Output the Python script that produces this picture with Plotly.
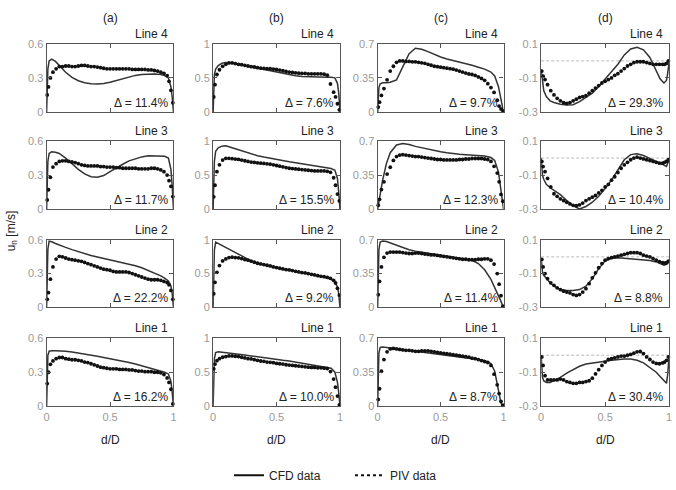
import plotly.graph_objects as go

# ---------------- data ----------------
x_cfd = [0, 0.005, 0.01, 0.02, 0.04, 0.07, 0.1, 0.15, 0.2, 0.25, 0.3, 0.35, 0.4, 0.45,
         0.5, 0.55, 0.6, 0.65, 0.7, 0.75, 0.8, 0.85, 0.9, 0.93, 0.96, 0.98, 0.99, 1.0]

x_piv = [0.005, 0.015, 0.03, 0.05,
         0.075, 0.1, 0.125, 0.15, 0.175,
         0.2, 0.225, 0.25, 0.275, 0.3,
         0.325, 0.35, 0.375, 0.4, 0.425,
         0.45, 0.475, 0.5, 0.525, 0.55,
         0.575, 0.6, 0.625, 0.65, 0.675,
         0.7, 0.725, 0.75, 0.775, 0.8,
         0.825, 0.85, 0.875, 0.9, 0.925,
         0.95, 0.965, 0.98, 0.995]

# column (a)
cfd_a4 = [0, 0.2, 0.38, 0.45, 0.465, 0.445, 0.41, 0.35, 0.305, 0.275, 0.258, 0.248, 0.245, 0.25,
          0.262, 0.278, 0.295, 0.31, 0.322, 0.33, 0.335, 0.335, 0.33, 0.32, 0.30, 0.22, 0.13, 0]
piv_a4 = [0.15, 0.22, 0.30, 0.35,
          0.38, 0.40, 0.40, 0.405, 0.405,
          0.40, 0.40, 0.405, 0.41, 0.41,
          0.405, 0.40, 0.40, 0.395, 0.39,
          0.385, 0.38, 0.38, 0.38, 0.38,
          0.38, 0.38, 0.38, 0.38, 0.375,
          0.375, 0.375, 0.375, 0.375, 0.37,
          0.37, 0.365, 0.36, 0.35, 0.34,
          0.32, 0.27, 0.19, 0.08]
cfd_a3 = [0, 0.25, 0.42, 0.49, 0.505, 0.50, 0.49, 0.45, 0.40, 0.35, 0.31, 0.285, 0.28, 0.295,
          0.33, 0.365, 0.395, 0.425, 0.445, 0.46, 0.47, 0.47, 0.47, 0.465, 0.45, 0.35, 0.2, 0]
piv_a3 = [0.08, 0.17, 0.28, 0.37,
          0.40, 0.42, 0.425, 0.425, 0.42,
          0.415, 0.41, 0.40, 0.39, 0.385,
          0.38, 0.38, 0.38, 0.38, 0.375,
          0.375, 0.37, 0.37, 0.37, 0.365,
          0.365, 0.36, 0.36, 0.36, 0.36,
          0.36, 0.355, 0.355, 0.355, 0.355,
          0.36, 0.36, 0.355, 0.345, 0.33,
          0.30, 0.25, 0.20, 0.11]
cfd_a2 = [0, 0.3, 0.52, 0.59, 0.585, 0.57, 0.555, 0.535, 0.515, 0.495, 0.478, 0.462, 0.448, 0.436,
          0.424, 0.412, 0.40, 0.386, 0.37, 0.352, 0.33, 0.305, 0.28, 0.26, 0.235, 0.19, 0.12, 0]
piv_a2 = [0.07, 0.13, 0.25, 0.36,
          0.43, 0.455, 0.45, 0.44, 0.43,
          0.425, 0.42, 0.415, 0.41, 0.40,
          0.39, 0.38, 0.37, 0.36, 0.35,
          0.34, 0.335, 0.33, 0.32, 0.315,
          0.315, 0.315, 0.315, 0.31, 0.30,
          0.29, 0.28, 0.27, 0.26, 0.25,
          0.245, 0.245, 0.245, 0.24, 0.23,
          0.22, 0.20, 0.15, 0.07]
cfd_a1 = [0, 0.25, 0.45, 0.485, 0.49, 0.49, 0.49, 0.485, 0.478, 0.47, 0.46, 0.45, 0.44, 0.43,
          0.42, 0.41, 0.397, 0.385, 0.372, 0.357, 0.342, 0.327, 0.312, 0.30, 0.285, 0.22, 0.12, 0]
piv_a1 = [0.20, 0.30, 0.37, 0.40,
          0.42, 0.43, 0.43, 0.42, 0.415,
          0.41, 0.41, 0.405, 0.40, 0.39,
          0.385, 0.375, 0.365, 0.355, 0.345,
          0.34, 0.335, 0.33, 0.33, 0.33,
          0.325, 0.325, 0.325, 0.32, 0.32,
          0.315, 0.31, 0.31, 0.305, 0.305,
          0.305, 0.30, 0.30, 0.295, 0.28,
          0.25, 0.21, 0.15, 0.02]

# column (b)
cfd_b4 = [0, 0.3, 0.55, 0.63, 0.68, 0.715, 0.725, 0.72, 0.70, 0.68, 0.66, 0.64, 0.62, 0.60,
          0.58, 0.56, 0.545, 0.53, 0.52, 0.515, 0.51, 0.51, 0.51, 0.51, 0.50, 0.42, 0.28, 0]
piv_b4 = [0.22, 0.40, 0.55, 0.62,
          0.67, 0.70, 0.72, 0.72, 0.71,
          0.70, 0.695, 0.685, 0.675, 0.665,
          0.66, 0.65, 0.645, 0.64, 0.635,
          0.635, 0.63, 0.625, 0.615, 0.605,
          0.595, 0.585, 0.58, 0.575, 0.57,
          0.565, 0.565, 0.56, 0.56, 0.56,
          0.56, 0.56, 0.555, 0.54, 0.41,
          0.29, 0.22, 0.12, 0.03]
cfd_b3 = [0, 0.4, 0.7, 0.85, 0.9, 0.925, 0.93, 0.9, 0.87, 0.84, 0.81, 0.785, 0.765, 0.745,
          0.725, 0.71, 0.695, 0.68, 0.665, 0.65, 0.635, 0.62, 0.605, 0.595, 0.57, 0.45, 0.25, 0]
piv_b3 = [0.18, 0.35, 0.55, 0.65,
          0.72, 0.745, 0.745, 0.74, 0.735,
          0.73, 0.72, 0.71, 0.70, 0.69,
          0.685, 0.68, 0.675, 0.67, 0.665,
          0.66, 0.65, 0.64, 0.63, 0.62,
          0.61, 0.60, 0.595, 0.59, 0.585,
          0.58, 0.575, 0.57, 0.565, 0.56,
          0.56, 0.56, 0.56, 0.555, 0.54,
          0.46, 0.35, 0.22, 0.12]
cfd_b2 = [0, 0.5, 0.85, 0.97, 0.95, 0.92, 0.88, 0.83, 0.78, 0.73, 0.69, 0.655, 0.63, 0.605,
          0.585, 0.565, 0.55, 0.535, 0.515, 0.50, 0.48, 0.46, 0.435, 0.415, 0.38, 0.30, 0.20, 0]
piv_b2 = [0.20, 0.37, 0.52, 0.62,
          0.69, 0.72, 0.74, 0.745, 0.74,
          0.735, 0.725, 0.71, 0.70, 0.685,
          0.67, 0.655, 0.645, 0.635, 0.625,
          0.615, 0.60, 0.59, 0.58, 0.57,
          0.56, 0.555, 0.545, 0.535, 0.525,
          0.515, 0.51, 0.50, 0.49, 0.48,
          0.47, 0.46, 0.455, 0.445, 0.43,
          0.40, 0.36, 0.28, 0.18]
cfd_b1 = [0, 0.4, 0.7, 0.79, 0.80, 0.795, 0.79, 0.78, 0.77, 0.755, 0.74, 0.725, 0.715, 0.70,
          0.69, 0.675, 0.665, 0.65, 0.64, 0.625, 0.61, 0.595, 0.575, 0.56, 0.50, 0.35, 0.2, 0]
piv_b1 = [0.55, 0.62, 0.67, 0.70,
          0.72, 0.73, 0.74, 0.74, 0.735,
          0.73, 0.72, 0.71, 0.70, 0.695,
          0.685, 0.675, 0.665, 0.66, 0.65,
          0.645, 0.64, 0.63, 0.625, 0.62,
          0.61, 0.605, 0.60, 0.595, 0.59,
          0.585, 0.58, 0.575, 0.57, 0.57,
          0.565, 0.565, 0.56, 0.555, 0.51,
          0.40, 0.28, 0.15, 0.02]

# column (c)
cfd_c4 = [0, 0.15, 0.25, 0.29, 0.30, 0.30, 0.305, 0.33, 0.47, 0.60, 0.655, 0.645, 0.62, 0.59,
          0.565, 0.545, 0.53, 0.515, 0.50, 0.48, 0.46, 0.44, 0.41, 0.37, 0.26, 0.12, 0.05, 0]
piv_c4 = [0.05, 0.10, 0.17, 0.24,
          0.33, 0.42, 0.47, 0.51, 0.525,
          0.525, 0.52, 0.52, 0.515, 0.515,
          0.51, 0.505, 0.50, 0.49, 0.48,
          0.47, 0.465, 0.46, 0.455, 0.45,
          0.445, 0.44, 0.43, 0.42, 0.41,
          0.40, 0.39, 0.385, 0.375, 0.36,
          0.345, 0.325, 0.29, 0.25, 0.20,
          0.12, 0.06, 0.03, 0.01]
cfd_c3 = [0, 0.03, 0.07, 0.15, 0.30, 0.47, 0.58, 0.66, 0.675, 0.665, 0.645, 0.63, 0.615, 0.60,
          0.59, 0.58, 0.57, 0.565, 0.56, 0.555, 0.55, 0.545, 0.53, 0.50, 0.38, 0.20, 0.08, 0]
piv_c3 = [0.04, 0.10, 0.20, 0.28,
          0.36, 0.43, 0.50, 0.54, 0.555,
          0.56, 0.555, 0.55, 0.545, 0.54,
          0.54, 0.535, 0.53, 0.525, 0.52,
          0.515, 0.51, 0.51, 0.505, 0.505,
          0.505, 0.505, 0.505, 0.51, 0.51,
          0.515, 0.515, 0.52, 0.52, 0.52,
          0.52, 0.515, 0.51, 0.49, 0.44,
          0.37, 0.28, 0.15, 0.08]
cfd_c2 = [0, 0.35, 0.6, 0.68, 0.69, 0.685, 0.67, 0.65, 0.625, 0.60, 0.585, 0.575, 0.565, 0.555,
          0.545, 0.535, 0.525, 0.515, 0.505, 0.49, 0.455, 0.39, 0.29, 0.21, 0.13, 0.06, 0.025, 0]
piv_c2 = [0.13, 0.27, 0.42, 0.52,
          0.565, 0.575, 0.575, 0.575, 0.575,
          0.57, 0.565, 0.56, 0.56, 0.565,
          0.565, 0.56, 0.555, 0.55, 0.545,
          0.545, 0.54, 0.535, 0.53, 0.525,
          0.52, 0.515, 0.51, 0.505, 0.50,
          0.50, 0.495, 0.495, 0.495, 0.50,
          0.50, 0.505, 0.505, 0.49, 0.45,
          0.35, 0.24, 0.12, 0.01]
cfd_c1 = [0, 0.3, 0.55, 0.605, 0.61, 0.605, 0.60, 0.59, 0.58, 0.572, 0.565, 0.558, 0.55, 0.543,
          0.535, 0.528, 0.52, 0.51, 0.50, 0.49, 0.48, 0.47, 0.44, 0.36, 0.15, 0.03, 0.01, 0]
piv_c1 = [0.07, 0.18, 0.36, 0.48,
          0.56, 0.59, 0.595, 0.59, 0.585,
          0.58, 0.575, 0.575, 0.57, 0.565,
          0.565, 0.57, 0.57, 0.57, 0.565,
          0.56, 0.555, 0.55, 0.545, 0.54,
          0.535, 0.53, 0.525, 0.52, 0.515,
          0.51, 0.505, 0.495, 0.49, 0.48,
          0.47, 0.46, 0.45, 0.42, 0.33,
          0.22, 0.13, 0.05, 0.01]

# column (d)
cfd_d4 = [-0.05, -0.09, -0.13, -0.175, -0.21, -0.235, -0.245, -0.255, -0.26, -0.258, -0.24, -0.215, -0.19, -0.15,
          -0.105, -0.065, -0.02, 0.035, 0.07, 0.08, 0.065, 0.02, -0.055, -0.105, -0.13, -0.115, -0.07, -0.01]
piv_d4 = [-0.06, -0.09, -0.11, -0.14,
          -0.175, -0.20, -0.22, -0.235, -0.245,
          -0.25, -0.245, -0.235, -0.225, -0.215,
          -0.21, -0.205, -0.19, -0.175, -0.16,
          -0.145, -0.13, -0.12, -0.11, -0.10,
          -0.085, -0.075, -0.06, -0.045, -0.03,
          -0.02, -0.01, -0.005, -0.005, -0.005,
          -0.01, -0.015, -0.02, -0.02, -0.02,
          -0.02, -0.02, -0.015, 0.0]
cfd_d3 = [0.0, -0.05, -0.1, -0.125, -0.155, -0.175, -0.19, -0.215, -0.25, -0.28, -0.30, -0.285, -0.26, -0.225,
          -0.18, -0.13, -0.07, -0.01, 0.02, 0.025, 0.015, -0.005, -0.02, -0.03, -0.04, -0.05, -0.03, -0.01]
piv_d3 = [-0.02, -0.05, -0.08, -0.12,
          -0.17, -0.21, -0.225, -0.24, -0.25,
          -0.26, -0.27, -0.278, -0.28, -0.275,
          -0.265, -0.25, -0.24, -0.23, -0.22,
          -0.205, -0.19, -0.17, -0.155, -0.13,
          -0.11, -0.085, -0.06, -0.04, -0.025,
          -0.01, 0.0, 0.005, 0.0, -0.005,
          -0.01, -0.015, -0.02, -0.025, -0.03,
          -0.03, -0.025, -0.02, -0.01]
cfd_d2 = [-0.01, -0.06, -0.09, -0.11, -0.13, -0.155, -0.175, -0.195, -0.2, -0.2, -0.195, -0.175, -0.13, -0.07,
          -0.025, -0.008, -0.005, -0.008, -0.01, -0.013, -0.017, -0.022, -0.03, -0.04, -0.05, -0.045, -0.035, -0.03]
piv_d2 = [-0.015, -0.06, -0.10, -0.13,
          -0.155, -0.17, -0.185, -0.195, -0.205,
          -0.21, -0.215, -0.225, -0.23, -0.225,
          -0.21, -0.19, -0.16, -0.125, -0.095,
          -0.065, -0.04, -0.02, -0.01, -0.005,
          0.0, 0.005, 0.01, 0.015, 0.02,
          0.025, 0.025, 0.025, 0.02, 0.01,
          0.005, 0.0, -0.01, -0.02, -0.028,
          -0.035, -0.037, -0.035, -0.025]
cfd_d1 = [-0.005, -0.1, -0.13, -0.15, -0.16, -0.16, -0.15, -0.13, -0.105, -0.085, -0.065, -0.052, -0.045, -0.04,
          -0.035, -0.03, -0.025, -0.022, -0.022, -0.03, -0.045, -0.07, -0.1, -0.125, -0.15, -0.165, -0.11, -0.005]
piv_d1 = [-0.01, -0.06, -0.12, -0.145,
          -0.145, -0.145, -0.145, -0.14, -0.145,
          -0.155, -0.16, -0.165, -0.165, -0.16,
          -0.16, -0.155, -0.15, -0.135, -0.11,
          -0.085, -0.06, -0.04, -0.025, -0.02,
          -0.015, -0.01, -0.005, -0.005, 0.0,
          0.005, 0.012, 0.02, 0.022, 0.01,
          -0.01, -0.025, -0.04, -0.048, -0.05,
          -0.045, -0.04, -0.03, -0.01]

col_titles = ["(a)", "(b)", "(c)", "(d)"]
row_titles = ["Line 4", "Line 3", "Line 2", "Line 1"]
deltas = [["11.4", "7.6", "9.7", "29.3"],
          ["11.7", "15.5", "12.3", "10.4"],
          ["22.2", "9.2", "11.4", "8.8"],
          ["16.2", "10.0", "8.7", "30.4"]]
cfd_rows = [[cfd_a4, cfd_b4, cfd_c4, cfd_d4],
            [cfd_a3, cfd_b3, cfd_c3, cfd_d3],
            [cfd_a2, cfd_b2, cfd_c2, cfd_d2],
            [cfd_a1, cfd_b1, cfd_c1, cfd_d1]]
piv_rows = [[piv_a4, piv_b4, piv_c4, piv_d4],
            [piv_a3, piv_b3, piv_c3, piv_d3],
            [piv_a2, piv_b2, piv_c2, piv_d2],
            [piv_a1, piv_b1, piv_c1, piv_d1]]
y_ranges = [[0, 0.6], [0, 1], [0, 0.7], [-0.3, 0.1]]
y_tickvals = [[0, 0.3, 0.6], [0, 0.5, 1], [0, 0.35, 0.7], [-0.3, -0.1, 0.1]]
y_ticktext = [["0", "0.3", "0.6"], ["0", "0.5", "1"], ["0", "0.35", "0.7"], ["-0.3", "-0.1", "0.1"]]
x_tickvals = [0, 0.5, 1]
x_ticktext = ["0", "0.5", "1"]

# ---------------- layout geometry (pixels) ----------------
W, H = 676, 490
col_px = [(44, 172), (212, 340), (378, 505), (543, 672)]
row_px = [(39, 109), (139, 209), (241, 310), (342, 412)]

FONT = "Liberation Sans, Arial, sans-serif"
LINEC = "#555555"
TICKC = "#999999"

fig = go.Figure()
layout = dict(width=W, height=H, margin=dict(l=0, r=0, t=0, b=0),
              paper_bgcolor="white", plot_bgcolor="white",
              font=dict(family=FONT, size=12, color="#222222"))
annotations = []
shapes = []

for r in range(4):
    for c in range(4):
        k = r * 4 + c + 1
        sx = "" if k == 1 else str(k)
        x0, x1 = col_px[c]
        y0, y1 = row_px[r]
        layout["xaxis" + sx] = dict(
            domain=[x0 / W, x1 / W], range=[0, 1], anchor="y" + sx,
            tickvals=x_tickvals, ticktext=x_ticktext, showticklabels=(r == 3),
            ticks="inside", ticklen=4, tickcolor=LINEC, tickwidth=1,
            showline=True, linecolor=LINEC, linewidth=1.3, mirror="ticks",
            showgrid=False, zeroline=False,
            tickfont=dict(family=FONT, size=11, color=TICKC))
        layout["yaxis" + sx] = dict(
            domain=[1 - y1 / H, 1 - y0 / H], range=y_ranges[c], anchor="x" + sx,
            tickvals=y_tickvals[c], ticktext=y_ticktext[c],
            ticks="inside", ticklen=4, tickcolor=LINEC, tickwidth=1,
            showline=True, linecolor=LINEC, linewidth=1.3, mirror="ticks",
            showgrid=False, zeroline=False,
            tickfont=dict(family=FONT, size=11, color=TICKC))
        if c == 3:
            shapes.append(dict(type="line", xref="x" + sx + " domain", yref="y" + sx,
                               x0=0, x1=1, y0=0, y1=0, layer="below",
                               line=dict(color="#aaaaaa", width=0.8, dash="3px,2px")))
        fig.add_trace(go.Scatter(x=x_cfd, y=cfd_rows[r][c], mode="lines",
                                 line=dict(color="#333333", width=1.5),
                                 xaxis="x" + sx, yaxis="y" + sx, showlegend=False,
                                 hoverinfo="skip"))
        fig.add_trace(go.Scatter(x=x_piv, y=piv_rows[r][c], mode="markers",
                                 marker=dict(color="#111111", size=3.8, symbol="circle"),
                                 xaxis="x" + sx, yaxis="y" + sx, showlegend=False,
                                 cliponaxis=False, hoverinfo="skip"))
        annotations.append(dict(text=row_titles[r], xref="x" + sx + " domain", yref="y" + sx + " domain",
                                x=0.97, y=1, xanchor="right", yanchor="bottom", yshift=1,
                                showarrow=False, font=dict(family=FONT, size=12, color="#222222")))
        annotations.append(dict(text="\u0394 = " + deltas[r][c] + "%", xref="x" + sx + " domain",
                                yref="y" + sx + " domain", x=0.97, y=0, xanchor="right", yanchor="bottom",
                                yshift=0, showarrow=False,
                                font=dict(family=FONT, size=12, color="#222222")))

for c in range(4):
    cx = (col_px[c][0] + col_px[c][1]) / 2 / W
    annotations.append(dict(text=col_titles[c], xref="paper", yref="paper", x=cx, y=1 - 12 / H,
                            xanchor="center", yanchor="middle", showarrow=False,
                            font=dict(family=FONT, size=12, color="#222222")))
    annotations.append(dict(text="d/D", xref="paper", yref="paper", x=cx, y=1 - 447 / H,
                            xanchor="center", yanchor="middle", showarrow=False,
                            font=dict(family=FONT, size=12, color="#222222")))

annotations.append(dict(text="u<sub>n</sub> [m/s]", xref="paper", yref="paper", x=9 / W, y=1 - 231 / H,
                        xanchor="center", yanchor="middle", textangle=-90, showarrow=False,
                        font=dict(family=FONT, size=12, color="#222222")))

# legend entries
fig.add_trace(go.Scatter(x=[None], y=[None], mode="lines", name="CFD data",
                         line=dict(color="#111111", width=2), showlegend=True))
fig.add_trace(go.Scatter(x=[None], y=[None], mode="lines", name="PIV data",
                         line=dict(color="#111111", width=2, dash="dot"), showlegend=True))

layout["annotations"] = annotations
layout["shapes"] = shapes
layout["legend"] = dict(orientation="h", x=228 / W, y=1 - 483 / H, xanchor="left", yanchor="middle",
                        font=dict(family=FONT, size=12, color="#222222"), bgcolor="rgba(0,0,0,0)",
                        entrywidth=76, entrywidthmode="pixels", tracegroupgap=0)
fig.update_layout(**layout)
fig.write_html("out.html", config={"displayModeBar": False},
               post_script="document.body.style.margin='0';document.body.style.overflow='hidden';")
